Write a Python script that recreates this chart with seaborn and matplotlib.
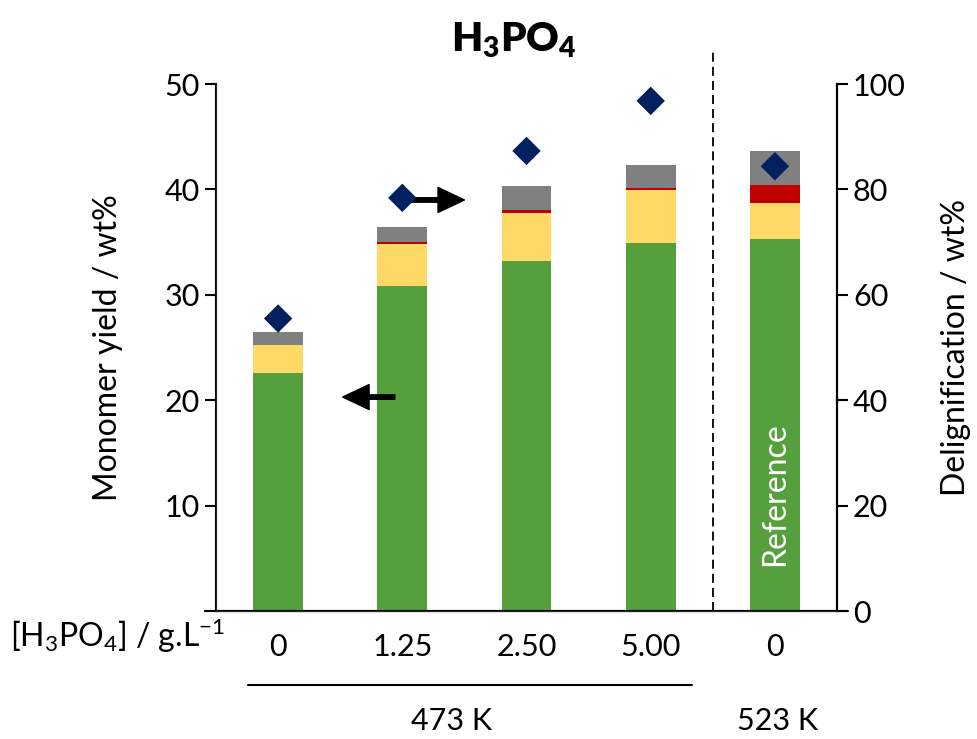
import numpy as np
import pandas as pd
import matplotlib
matplotlib.use("Agg")
import matplotlib.pyplot as plt
import seaborn as sns

# data
cats = ["0 (473 K)", "1.25", "2.50", "5.00", "0 (523 K)"]
tick_labels = ["0", "1.25", "2.50", "5.00", "0"]
green = [22.6, 30.8, 33.2, 34.9, 35.3]
yellow = [2.6, 4.0, 4.6, 5.0, 3.4]
red = [0.0, 0.2, 0.2, 0.2, 1.7]
gray = [1.3, 1.4, 2.3, 2.2, 3.2]
delig = [55.5, 78.4, 87.3, 96.8, 84.4]

colors = ["#55A03C", "#FFD966", "#C00000", "#808080"]

sns.set_style("white")
plt.rcParams["font.family"] = ["Lato", "DejaVu Sans"]
plt.rcParams["text.color"] = "black"
plt.rcParams["axes.labelcolor"] = "black"
plt.rcParams["mathtext.fontset"] = "custom"
plt.rcParams["mathtext.rm"] = "Lato"
plt.rcParams["mathtext.it"] = "Lato"
plt.rcParams["mathtext.bf"] = "Lato:heavy"

fig = plt.figure(figsize=(9.77, 7.39), dpi=100)
ax = fig.add_axes([0.2211, 0.1732, 0.6356, 0.7131])

df = pd.DataFrame({"cat": cats, "green": green, "yellow": yellow,
                   "red": red, "gray": gray})
bottom = np.zeros(len(cats))
for col, c in zip(["green", "yellow", "red", "gray"], colors):
    sns.barplot(data=df, x="cat", y=col, bottom=bottom, color=c, width=0.4,
                saturation=1, linewidth=0, ax=ax)
    bottom = bottom + df[col].to_numpy()

ax.set_ylim(0, 50)
ax.set_xlim(-0.5, len(cats) - 0.5)
ax.set_yticks([10, 20, 30, 40, 50])
ax.set_xticks(range(len(cats)))
ax.set_xticklabels(tick_labels)
ax.set_xlabel("")
ax.set_ylabel("Monomer yield / wt%", fontsize=23, labelpad=30)
ax.tick_params(axis="both", labelsize=22, direction="out", length=8,
               width=1.5, colors="black")
ax.tick_params(axis="x", pad=8)
for s in ["left", "bottom", "right"]:
    ax.spines[s].set_visible(True)
    ax.spines[s].set_color("black")
    ax.spines[s].set_linewidth(1.5)
ax.spines["top"].set_visible(False)
# excel-style axis line running a little past both spines
ax.plot([-0.59, len(cats) - 0.41], [0, 0], color="black", lw=1.5,
        clip_on=False)

ax2 = ax.twinx()
sns.scatterplot(x=range(len(cats)), y=delig, marker="D", s=210,
                color="#002060", edgecolor="none", ax=ax2, zorder=5)
ax2.set_ylim(0, 100)
ax2.set_yticks([0, 20, 40, 60, 80, 100])
ax2.set_ylabel("Delignification / wt%", fontsize=23, labelpad=25)
ax2.tick_params(axis="y", labelsize=22, direction="out", length=8,
                width=1.5, colors="black")
ax2.spines["top"].set_visible(False)
ax2.spines["right"].set_linewidth(1.5)
ax2.spines["right"].set_color("black")

# separator between temperatures
ax.plot([3.5, 3.5], [0, 53.4], ls=(0, (5, 2.8)), color="black", lw=1.3,
        clip_on=False)

# arrows
arrow_kw = dict(width=3.2, headwidth=18, headlength=19, shrink=0,
                color="black")
ax2.annotate("", xy=(0.52, 40.6), xytext=(0.94, 40.6), arrowprops=arrow_kw)
ax2.annotate("", xy=(1.50, 78.0), xytext=(1.04, 78.0), arrowprops=arrow_kw)

ax.text(4, 11.1, "Reference", rotation=90, color="white", fontsize=23,
        ha="center", va="center")

fig.text(0.526, 0.945, r"$\mathbf{H_3PO_4}$", fontsize=29, ha="center",
         va="center", color="black")

# lower labels
fig.text(0.120, 0.140, r"[H$_3$PO$_4$] / g.L$^{-1}$", fontsize=23,
         ha="center", va="center")
fig.add_artist(plt.Line2D([0.254, 0.708], [0.073, 0.073], color="black",
                          lw=1.5))
fig.text(0.462, 0.025, "473 K", fontsize=22, ha="center", va="center")
fig.text(0.796, 0.025, "523 K", fontsize=22, ha="center", va="center")

fig.savefig("out.png", dpi=100)
